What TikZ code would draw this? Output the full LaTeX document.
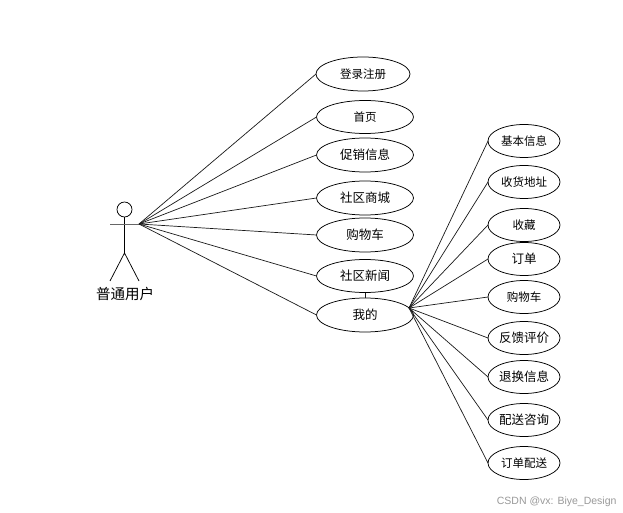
\documentclass[tikz,border=0pt]{standalone}
\usepackage{fontspec}
\setmainfont{Noto Sans CJK SC}
\newfontfamily\wm{Liberation Sans}
\usetikzlibrary{shapes.geometric}
\tikzset{
  uc/.style={draw=black,line width=0.75pt,ellipse,inner sep=0pt,outer sep=0pt,minimum width=97bp,minimum height=34bp,font=\fontsize{12.5bp}{14bp}\selectfont},
  ucs/.style={uc,minimum width=72bp,minimum height=33bp},
  small/.style={font=\fontsize{11.5bp}{13bp}\selectfont},
  link/.style={draw=black!90,line width=0.7pt},
  stick/.style={draw=black,line width=0.75pt}
}
\begin{document}
\begin{tikzpicture}[x=1bp,y=-1bp]
\useasboundingbox (0,0) rectangle (623,513);
\fill[white] (0,0) rectangle (623,513);
% actor
\node[circle,draw=black,line width=0.75pt,minimum size=15bp,inner sep=0pt,outer sep=0pt] (head) at (124.5,209.5) {};
\coordinate (hip) at (124.5,253);
\coordinate (lh) at (110,224);
\coordinate (hub) at (139,224);
\coordinate (lf) at (110,281);
\coordinate (rf) at (139,281);
\draw[stick] (head.south) -- (hip);
\draw[stick,draw=black!60,line width=1pt] (lh) -- (hub);
\draw[stick] (lf) -- (hip) -- (rf);
\node[font=\fontsize{14.5bp}{16bp}\selectfont] (actor) at (125,294) {普通用户};
% use cases
\node[uc,minimum width=94bp,small] (a) at (363,74) {登录注册};
\node[uc,minimum height=33bp,small] (b) at (365,117) {首页};
\node[uc] (c) at (365,155) {促销信息};
\node[uc] (d) at (365,198) {社区商城};
\node[uc] (e) at (365,235) {购物车};
\node[uc,minimum height=33bp] (f) at (365,276) {社区新闻};
\node[uc] (g) at (365,315) {我的};
\foreach \n in {a,b,c,d,e,f,g} \draw[link] (hub) -- (\n.west);
\draw[link] (f) -- (g);
\coordinate (hubb) at (409,308);
\node[ucs,small] (r1) at (524,141) {基本信息};
\node[ucs,small] (r2) at (524,182) {收货地址};
\node[ucs,small] (r3) at (524,225) {收藏};
\node[ucs] (r4) at (524,259) {订单};
\node[ucs,small] (r5) at (524,297) {购物车};
\node[ucs] (r6) at (524,338) {反馈评价};
\node[ucs] (r7) at (524,377) {退换信息};
\node[ucs] (r8) at (524,420) {配送咨询};
\node[ucs,small] (r9) at (524,463) {订单配送};
\foreach \n in {r1,r2,r3,r4,r5,r6,r7,r8,r9} \draw[link] (hubb) -- (\n.west);
\node[text=black!40,font=\wm\fontsize{10.5bp}{12bp}\selectfont,anchor=east] (wm) at (620,502) {CSDN @vx: Biye\_Design};
\end{tikzpicture}
\end{document}
